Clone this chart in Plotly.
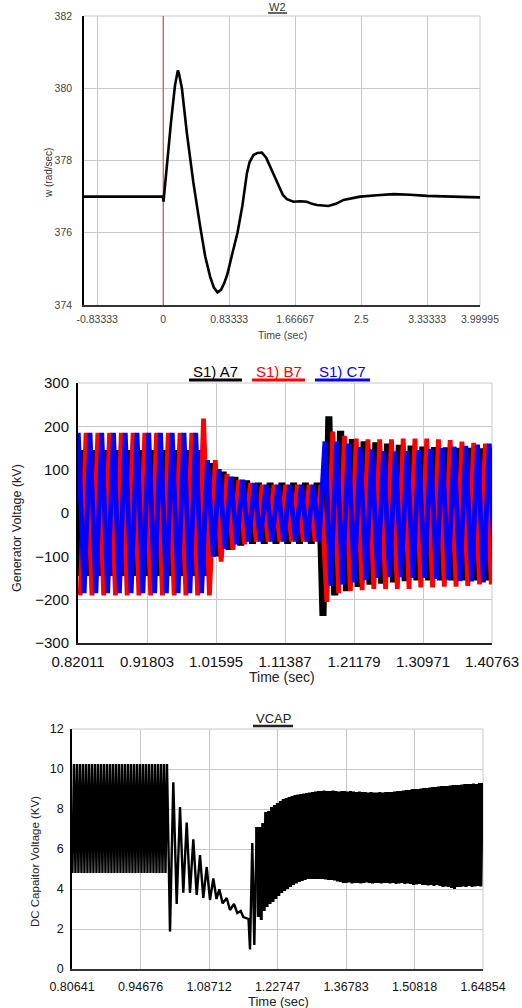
import plotly.graph_objects as go

W, H = 522, 1008
FONT = "Arial, 'Liberation Sans', sans-serif"

# ------------------------------------------------------------------ W2 (top)
w2_time = [-1.0, -0.6, -0.2, -0.01, 0.0, 0.004, 0.012, 0.05, 0.1, 0.15,
           0.172, 0.185, 0.2, 0.236, 0.299, 0.38, 0.467, 0.53, 0.593, 0.64,
           0.686, 0.73, 0.77, 0.81, 0.87, 0.938, 1.0, 1.057, 1.09, 1.14,
           1.19, 1.246, 1.30, 1.351, 1.40, 1.456, 1.51, 1.562, 1.645, 1.73,
           1.814, 1.88, 1.94, 2.087, 2.18, 2.277, 2.38, 2.487, 2.7, 2.908,
           3.12, 3.33, 3.65, 3.99995]
w2_speed = [377.0, 377.0, 377.0, 377.0, 376.95, 376.86, 377.05, 378.0, 379.1, 380.1,
            380.42, 380.49, 380.4, 380.0, 378.76, 377.4, 376.17, 375.35, 374.78, 374.48,
            374.35, 374.42, 374.6, 374.85, 375.4, 376.0, 376.75, 377.65, 377.95, 378.15,
            378.21, 378.22, 378.08, 377.83, 377.55, 377.28, 377.05, 376.93, 376.86, 376.87,
            376.86, 376.8, 376.77, 376.74, 376.8, 376.91, 376.96, 377.0, 377.04, 377.07,
            377.05, 377.02, 377.0, 376.98]
W2_XRANGE = [-1.0, 3.99995]
W2_XTICKS = [-0.83333, 0, 0.83333, 1.66667, 2.5, 3.33333, 3.99995]
W2_XLABELS = ["-0.83333", "0", "0.83333", "1.66667", "2.5", "3.33333", "3.99995"]
W2_YRANGE = [374, 382]
W2_YTICKS = [374, 376, 378, 380, 382]
CURSOR_TIME = 0.0

# ------------------------------------------------------------------ Generator voltages (middle)
GEN_PERIOD = 0.016667
GEN_FIRST_PEAK = {"A7": 0.8261, "B7": 0.8316, "C7": 0.8205}
# peaks[n] at first_peak + n*T ; troughs[m] at first_peak + (m-0.5)*T
a7_peaks = [140] * 11 + [110, 90, 78, 70] + [65] * 6 + [218, 184, 165, 160, 158, 155, 152, 150,
                                                       148, 147, 146, 145, 145, 144, 143]
a7_troughs = [-140] * 12 + [-95, -80, -70] + [-66] * 6 + [-232, -185, -175, -165, -160, -158, -155,
                                                         -152, -150, -150, -150, -150, -150, -150,
                                                         -150, -150]
b7_peaks = [185] * 10 + [218, 122, 90, 77, 69] + [65] * 6 + [188, 178, 172, 170, 170, 170, 172, 172,
                                                            172, 170, 168, 165, 162, 160, 160]
b7_troughs = [-190] * 12 + [-112, -85, -72] + [-66] * 6 + [-205, -185, -180, -178, -175, -175, -175,
                                                          -175, -172, -172, -170, -170, -168, -165,
                                                          -165, -165]
c7_peaks = [185] * 11 + [122, 101, 84, 77, 69] + [65] * 5 + [165, 165, 160, 152, 147, 143, 142, 143,
                                                            145, 148, 150, 153, 155, 158, 160]
c7_troughs = [-185] * 12 + [-101, -82, -72] + [-66] * 7 + [-168, -165, -160, -155, -150, -148, -148,
                                                          -150, -150, -152, -155, -157, -158, -160,
                                                          -160]
A7_HOLD = 0.0017   # flat top of phase A crests
GEN_XRANGE = [0.82011, 1.40763]
GEN_XTICKS = [0.82011, 0.91803, 1.01595, 1.11387, 1.21179, 1.30971, 1.40763]
GEN_XLABELS = ["0.82011", "0.91803", "1.01595", "1.11387", "1.21179", "1.30971", "1.40763"]
GEN_YRANGE = [-300, 300]
GEN_YTICKS = [-300, -200, -100, 0, 100, 200, 300]

# ------------------------------------------------------------------ VCAP (bottom)
VCAP_PRE_START, VCAP_PRE_PERIOD = 0.8073, 0.00615
vcap_pre_troughs = [4.8] * 32
vcap_pre_peaks = [10.25] * 32
vcap_fault_time = [1.00721, 1.01397, 1.02094, 1.02770, 1.03446, 1.04143, 1.04819, 1.05495, 1.06192,
                   1.06868, 1.07544, 1.08241, 1.08917, 1.09593, 1.10249, 1.10823, 1.11519, 1.12339,
                   1.13015, 1.13835, 1.14511, 1.15208, 1.15740, 1.16437, 1.16806, 1.17113, 1.17585,
                   1.17995, 1.18487]
vcap_fault_value = [1.87, 9.33, 3.25, 8.1, 3.82, 7.32, 3.8, 6.48, 3.7, 5.7, 3.55, 5.1, 3.45, 4.53,
                    3.5, 3.98, 3.28, 3.55, 2.95, 3.25, 2.8, 2.9, 2.6, 2.55, 2.5, 0.98, 6.3, 1.2, 7.1]
VCAP_POST_START, VCAP_POST_PERIOD = 1.1882, 0.006
vcap_post_troughs = [2.6, 2.45, 2.9, 3.1, 3.25, 3.35, 3.5, 3.65, 3.8, 3.9,
                     4.0, 4.1, 4.2, 4.28, 4.35, 4.4, 4.45, 4.5, 4.5, 4.5,
                     4.5, 4.5, 4.5, 4.48, 4.45, 4.45, 4.42, 4.38, 4.35, 4.3,
                     4.3, 4.32, 4.28, 4.3, 4.3, 4.28, 4.3, 4.32, 4.3, 4.28,
                     4.3, 4.3, 4.28, 4.3, 4.3, 4.28, 4.3, 4.25, 4.28, 4.3,
                     4.25, 4.28, 4.25, 4.2, 4.22, 4.25, 4.2, 4.2, 4.18, 4.2,
                     4.15, 4.2, 4.15, 4.1, 4.12, 4.1, 4.05, 4.0, 4.1, 4.1,
                     4.12, 4.1, 4.15, 4.1, 4.12, 4.15, 4.12]
vcap_post_peaks = [7.1, 7.3, 7.85, 7.9, 8.1, 8.2, 8.3, 8.4, 8.5, 8.55,
                   8.6, 8.65, 8.7, 8.72, 8.75, 8.78, 8.8, 8.82, 8.85, 8.88,
                   8.9, 8.9, 8.92, 8.9, 8.9, 8.92, 8.9, 8.88, 8.9, 8.9,
                   8.88, 8.9, 8.88, 8.85, 8.88, 8.85, 8.85, 8.82, 8.85, 8.82,
                   8.82, 8.85, 8.82, 8.85, 8.85, 8.85, 8.88, 8.9, 8.9, 8.92,
                   8.95, 8.95, 9.0, 9.0, 9.0, 9.02, 9.05, 9.05, 9.08, 9.1,
                   9.1, 9.12, 9.15, 9.15, 9.15, 9.18, 9.2, 9.2, 9.2, 9.22,
                   9.25, 9.25, 9.25, 9.28, 9.25, 9.3, 9.3]
VCAP_XRANGE = [0.80641, 1.64854]
VCAP_XTICKS = [0.80641, 0.94676, 1.08712, 1.22747, 1.36783, 1.50818, 1.64854]
VCAP_XLABELS = ["0.80641", "0.94676", "1.08712", "1.22747", "1.36783", "1.50818", "1.64854"]
VCAP_YRANGE = [0, 12]
VCAP_YTICKS = [0, 2, 4, 6, 8, 10, 12]


def zigzag(t0, period, first, second, hold=0.0):
    """first[k] at t0 + k*period, second[k] at t0 + (k+0.5)*period."""
    xs, ys = [], []
    for k in range(max(len(first), len(second))):
        for vals, off in ((first, 0.0), (second, 0.5)):
            if k < len(vals):
                tc = t0 + (k + off) * period
                if hold:
                    xs += [tc - hold, tc + hold]
                    ys += [vals[k], vals[k]]
                else:
                    xs.append(tc)
                    ys.append(vals[k])
    return xs, ys


def dx(p):
    return p / W


def dy(p):
    return 1 - p / H


fig = go.Figure()

# ---- W2 (cursor first, curve on top)
fig.add_trace(go.Scatter(x=[CURSOR_TIME, CURSOR_TIME], y=W2_YRANGE, mode="lines",
                         line=dict(color="#b8433b", width=1),
                         xaxis="x", yaxis="y", showlegend=False, hoverinfo="skip"))
fig.add_trace(go.Scatter(x=w2_time, y=w2_speed, mode="lines",
                         line=dict(color="black", width=2.6),
                         xaxis="x", yaxis="y", showlegend=False, hoverinfo="skip"))

# ---- generator phases
phase_data = [("A7", a7_troughs, a7_peaks, "#000000", A7_HOLD),
              ("B7", b7_troughs, b7_peaks, "#ff0000", 0.0),
              ("C7", c7_troughs, c7_peaks, "#0000ff", 0.0)]
for name, tr, pk, col, hold in phase_data:
    xs, ys = zigzag(GEN_FIRST_PEAK[name] - GEN_PERIOD / 2, GEN_PERIOD, tr, pk, hold)
    fig.add_trace(go.Scatter(x=xs, y=ys, mode="lines", line=dict(color=col, width=4.8),
                             xaxis="x2", yaxis="y2", showlegend=False, hoverinfo="skip"))

# ---- VCAP (pre-fault + fault, then recovery drawn a little heavier)
x1, y1 = zigzag(VCAP_PRE_START, VCAP_PRE_PERIOD, vcap_pre_troughs, vcap_pre_peaks)
x3, y3 = zigzag(VCAP_POST_START, VCAP_POST_PERIOD, vcap_post_troughs, vcap_post_peaks)
fig.add_trace(go.Scatter(x=x1 + vcap_fault_time, y=y1 + vcap_fault_value, mode="lines",
                         line=dict(color="black", width=2.4),
                         xaxis="x3", yaxis="y3", showlegend=False, hoverinfo="skip"))
fig.add_trace(go.Scatter(x=vcap_fault_time[-1:] + x3, y=vcap_fault_value[-1:] + y3, mode="lines",
                         line=dict(color="black", width=3.0),
                         xaxis="x3", yaxis="y3", showlegend=False, hoverinfo="skip"))

GRID = "#c8c8c8"


def xaxis(domain, anchor, rng, tv, tt, fsize, fcolor, lcolor, standoff):
    return dict(domain=domain, anchor=anchor, range=rng, tickmode="array", tickvals=tv, ticktext=tt,
                showgrid=True, gridcolor=GRID, gridwidth=1, zeroline=False, showline=True,
                linecolor=lcolor, linewidth=1.5, ticks="", ticklabelstandoff=standoff,
                tickfont=dict(family=FONT, size=fsize, color=fcolor), fixedrange=True)


def yaxis(domain, anchor, rng, tv, fsize, fcolor, lwidth, standoff):
    return dict(domain=domain, anchor=anchor, range=rng, tickmode="array", tickvals=tv,
                showgrid=True, gridcolor=GRID, gridwidth=1, zeroline=False, showline=True,
                linecolor="black", linewidth=lwidth, ticks="", ticklabelstandoff=standoff,
                tickfont=dict(family=FONT, size=fsize, color=fcolor), fixedrange=True)


fig.update_layout(
    width=W, height=H, margin=dict(l=0, r=0, t=0, b=0, autoexpand=False),
    paper_bgcolor="white", plot_bgcolor="white",
    font=dict(family=FONT),
    xaxis=xaxis([dx(84), dx(480)], "y", W2_XRANGE, W2_XTICKS, W2_XLABELS, 10.5, "#444", "#333", 4),
    yaxis=yaxis([dy(305), dy(16)], "x", W2_YRANGE, W2_YTICKS, 10.5, "#444", 1.5, 8),
    xaxis2=xaxis([dx(78), dx(492)], "y2", GEN_XRANGE, GEN_XTICKS, GEN_XLABELS, 15, "#111", "#222", 4),
    yaxis2=yaxis([dy(643), dy(383)], "x2", GEN_YRANGE, GEN_YTICKS, 15, "#111", 2, 4),
    xaxis3=xaxis([dx(72), dx(483)], "y3", VCAP_XRANGE, VCAP_XTICKS, VCAP_XLABELS, 12.5, "#111", "#333", 5),
    yaxis3=yaxis([dy(969), dy(729)], "x3", VCAP_YRANGE, VCAP_YTICKS, 12.5, "#111", 1.5, 4),
)


def note(text, x, y, size, color="#222", angle=0):
    fig.add_annotation(text=text, x=dx(x), y=dy(y), xref="paper", yref="paper", showarrow=False,
                       textangle=angle, xanchor="center", yanchor="middle",
                       font=dict(family=FONT, size=size, color=color))


def paper_line(x0, x1, y0, y1, color, width, layer="above"):
    fig.add_shape(type="line", xref="paper", yref="paper", x0=dx(x0), x1=dx(x1), y0=dy(y0), y1=dy(y1),
                  line=dict(color=color, width=width), layer=layer)


# frame lines along the top and right edges (light grey, like the grid)
for (l, r, t, b) in [(84, 480, 16, 305), (78, 492, 383, 643), (72, 483, 729, 969)]:
    paper_line(l, r, t, t, GRID, 1, "below")
    paper_line(r, r, t, b, GRID, 1, "below")

# top chart texts
note("W2", 277, 7, 11, "#333")
paper_line(268, 287, 13, 13, "#333", 1.5)
note("w (rad/sec)", 48, 173, 10, "#333", -90)
note("Time (sec)", 282, 335, 10.5, "#444")

# middle chart texts
for lbl, cx, x0, x1, col in [("S1) A7", 215.5, 189, 242, "#000000"),
                             ("S1) B7", 278.5, 252, 305, "#ff0000"),
                             ("S1) C7", 342.5, 315, 370, "#0000ff")]:
    note(lbl, cx, 371, 15, col)
    paper_line(x0, x1, 380, 380, col, 3)
note("Generator Voltage (kV)", 17, 528, 12.5, "#222", -90)
note("Time (sec)", 282, 677, 14, "#222")

# bottom chart texts
note("VCAP", 273, 718, 13, "#222")
paper_line(253, 293, 726, 726, "#222", 2.5)
note("DC Capaitor Voltage (KV)", 35, 862, 11.5, "#222", -90)
note("Time (sec)", 278, 1001, 13, "#222")

fig.write_html("out.html")
